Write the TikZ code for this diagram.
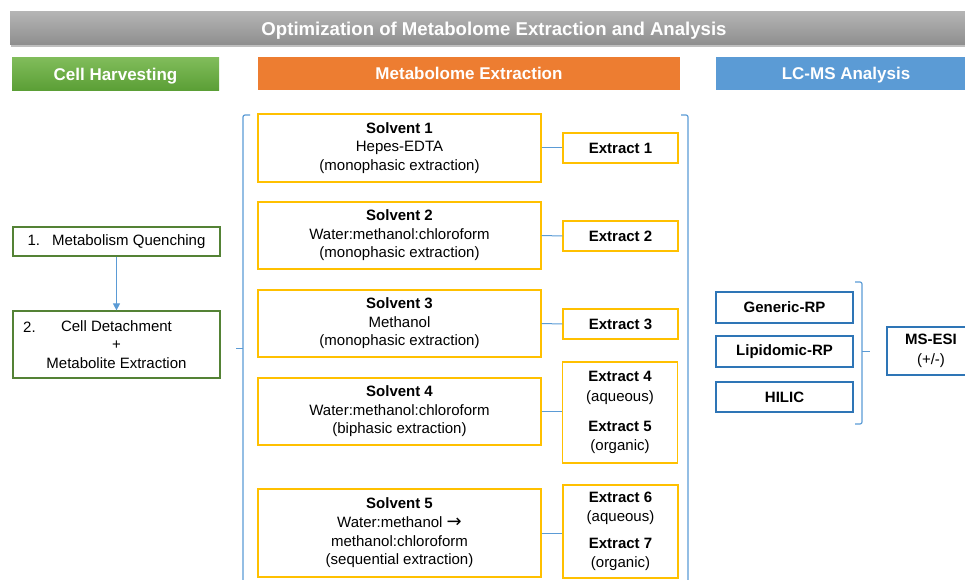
\documentclass[tikz,border=0pt]{standalone}
\usepackage{fontspec}
\setmainfont{Liberation Sans}
\newfontfamily\arrowfont{DejaVu Sans}
\usetikzlibrary{shadows,arrows.meta}
\definecolor{hgreenT}{HTML}{80BC5A}
\definecolor{hgreenB}{HTML}{5A9E35}
\definecolor{horange}{HTML}{ED7D31}
\definecolor{hblue}{HTML}{5B9BD5}
\definecolor{grayT}{HTML}{B4B4B4}
\definecolor{grayB}{HTML}{8E8E8E}
\definecolor{gborder}{HTML}{548235}
\definecolor{yborder}{HTML}{FFC000}
\definecolor{bborder}{HTML}{2E75B6}
\definecolor{conn}{HTML}{5B9BD5}
\begin{document}
\begin{tikzpicture}[x=1pt,y=-1pt,
  every node/.style={font=\fontsize{15}{18.6}\selectfont, inner sep=0pt, text=black},
  header/.style={minimum height=33pt, text=white, text depth=-1.5pt, font=\fontsize{17}{20}\selectfont\bfseries},
  greenbox/.style={draw=gborder, line width=1.2pt, fill=white},
  solventbox/.style={draw=yborder, line width=1.2pt, minimum width=283pt, align=center},
  extractbox/.style={draw=yborder, line width=1.2pt, minimum width=115pt, align=center},
  lcbox/.style={draw=bborder, line width=1.2pt, minimum width=137pt, minimum height=31pt, font=\fontsize{15}{18.6}\selectfont\bfseries},
  connector/.style={draw=conn, line width=1pt},
  bracket/.style={draw=conn, line width=1.2pt, rounded corners=2pt}
]
\useasboundingbox (0,0) rectangle (965,580);

% headers
\node[header, minimum width=968pt, top color=grayT, bottom color=grayB,
  drop shadow={shadow xshift=1pt, shadow yshift=-2.5pt, opacity=0.5},
  font=\fontsize{18.6}{22}\selectfont\bfseries] (title) at (494,28.5) {Optimization of Metabolome Extraction and Analysis};
\node[header, minimum width=207pt, top color=hgreenT, bottom color=hgreenB] (hcell) at (115.5,74.5) {Cell Harvesting};
\node[header, minimum width=422pt, fill=horange] (hext) at (469,73.5) {Metabolome Extraction};
\node[header, minimum width=260pt, fill=hblue] (hlc) at (846,73.5) {LC-MS Analysis};

% cell harvesting
\node[greenbox, minimum width=207pt, minimum height=29pt] (quench) at (116.5,241.5) {1.\hspace{12pt}Metabolism Quenching};
\node[greenbox, minimum width=207pt, minimum height=67pt, align=center] (detach) at (116.5,344.5) {Cell Detachment\\+\\Metabolite Extraction};
\node[anchor=west] (num2) at (23,327) {2.};
\draw[connector, -{Triangle[width=7pt,length=7pt]}] (quench.south) -- (detach.north);

% solvents
\node[solventbox, minimum height=68pt] (s1) at (399.5,148) {\textbf{Solvent 1}\\Hepes-EDTA\\(monophasic extraction)};
\node[solventbox, minimum height=67pt] (s2) at (399.5,235.5) {\textbf{Solvent 2}\\Water:methanol:chloroform\\(monophasic extraction)};
\node[solventbox, minimum height=67pt] (s3) at (399.5,323.5) {\textbf{Solvent 3}\\Methanol\\(monophasic extraction)};
\node[solventbox, minimum height=67pt] (s4) at (399.5,411.5) {\textbf{Solvent 4}\\Water:methanol:chloroform\\(biphasic extraction)};
\node[solventbox, minimum height=88pt] (s5) at (399.5,533) {\textbf{Solvent 5}\\Water:methanol {\arrowfont\fontsize{18}{18.6}\selectfont →}\\methanol:chloroform\\(sequential extraction)};

% extracts
\node[extractbox, minimum height=30pt, font=\fontsize{15}{18.6}\selectfont\bfseries] (e1) at (620.5,148) {Extract 1};
\node[extractbox, minimum height=30pt, font=\fontsize{15}{18.6}\selectfont\bfseries] (e2) at (620.5,236) {Extract 2};
\node[extractbox, minimum height=30pt, font=\fontsize{15}{18.6}\selectfont\bfseries] (e3) at (620.5,324) {Extract 3};
\node[extractbox, minimum height=101pt, font=\fontsize{15}{19.5}\selectfont] (e45) at (620,412.5) {\textbf{Extract 4}\\(aqueous)\\[10.5pt]\textbf{Extract 5}\\(organic)};
\node[extractbox, minimum height=93pt, font=\fontsize{15}{19}\selectfont] (e67) at (620.5,531.5) {\textbf{Extract 6}\\(aqueous)\\[8pt]\textbf{Extract 7}\\(organic)};

\draw[connector] (s1.east) -- (e1.west);
\draw[connector] (s2.east) -- (e2.west);
\draw[connector] (s3.east) -- (e3.west);
\draw[connector] (s4.east) -- (s4.east -| e45.west);
\draw[connector] (s5.east) -- (s5.east -| e67.west);

% big brackets
\draw[bracket] (250,115) -- (243,115) -- (243,600);
\draw[connector] (243,348) -- (236,348);
\draw[bracket] (681,115) -- (688,115) -- (688,600);

% LC-MS
\node[lcbox] (generic) at (784.5,307.5) {Generic-RP};
\node[lcbox] (lipid) at (784.5,351.5) {Lipidomic-RP};
\node[lcbox, minimum height=30pt] (hilic) at (784.5,397) {HILIC};
\node[draw=bborder, line width=1.2pt, minimum width=88pt, minimum height=48pt, align=center, font=\fontsize{15}{19.5}\selectfont] (msesi) at (931,351) {\textbf{MS-ESI}\\(+/-)};

\draw[bracket] (855,282) -- (862,282) -- (862,424) -- (855,424);
\draw[connector] (862,351) -- (870,351);
\end{tikzpicture}
\end{document}
